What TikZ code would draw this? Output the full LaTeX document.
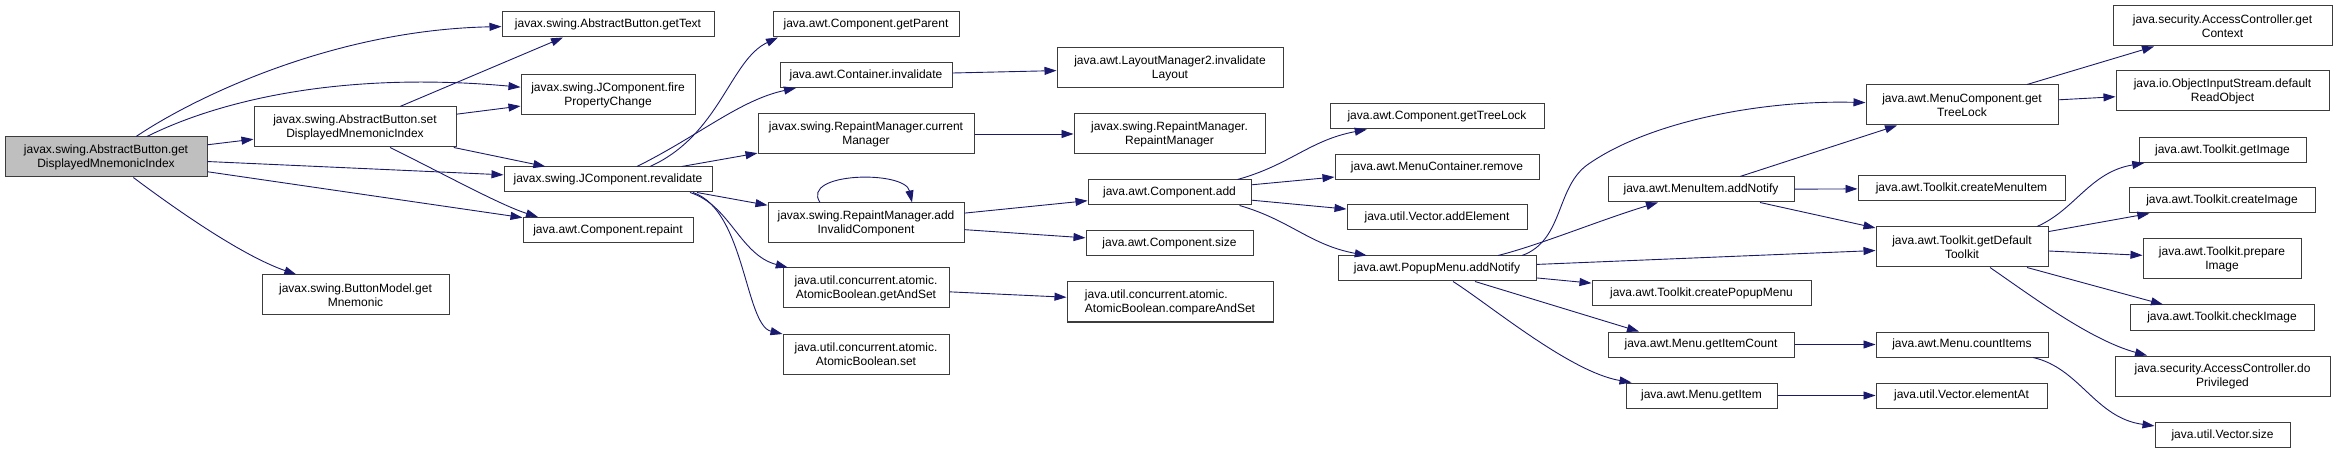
\documentclass[tikz,border=0pt]{standalone}
\usepackage{fontspec}
\setmainfont{Liberation Sans}
\usetikzlibrary{arrows.meta}

\definecolor{edgeblue}{RGB}{25,25,112}
\definecolor{boxgray}{RGB}{60,60,60}
\definecolor{rootgray}{RGB}{191,191,191}

\begin{document}
\begin{tikzpicture}[
        % one unit = one pixel of the graph, y grows downwards
        x=1pt, y=-1pt,
        % box for one method
        func/.style={
            draw=boxgray,
            fill=white,
            line width=1pt,
            inner sep=0pt,
            align=center,
            font=\fontsize{12}{14}\selectfont
        },
        one line/.style={minimum height=25},
        two lines/.style={minimum height=40},
        % the method the graph starts from
        root func/.style={func, fill=rootgray},
        % call arrow
        calls/.style={
            draw=edgeblue,
            line width=0.9pt,
            -{Triangle[length=12pt, width=8pt]}
        }
    ]

    \useasboundingbox (0,0) rectangle (2337,454);

    % Column 1-2
    \node[root func, two lines, minimum width=202] (getDMI) at (106,157) {javax.swing.AbstractButton.get\\DisplayedMnemonicIndex};
    \node[func, two lines, minimum width=202] (setDMI) at (355,127) {javax.swing.AbstractButton.set\\DisplayedMnemonicIndex};
    \node[func, two lines, minimum width=187] (getMnemonic) at (355.5,295) {javax.swing.ButtonModel.get\\Mnemonic};

    % Column 3
    \node[func, one line, minimum width=212] (getText) at (608,24.5) {javax.swing.AbstractButton.getText};
    \node[func, two lines, minimum width=174] (firePC) at (608,95) {javax.swing.JComponent.fire\\PropertyChange};
    \node[func, one line, minimum width=208] (revalidate) at (608,179.5) {javax.swing.JComponent.revalidate};
    \node[func, one line, minimum width=170] (repaint) at (608,230) {java.awt.Component.repaint};

    % Column 4
    \node[func, one line, minimum width=186] (getParent) at (866,24.5) {java.awt.Component.getParent};
    \node[func, one line, minimum width=172] (contInvalidate) at (866,75) {java.awt.Container.invalidate};
    \node[func, two lines, minimum width=216] (currentMgr) at (866,134) {javax.swing.RepaintManager.current\\Manager};
    \node[func, two lines, minimum width=196] (addInvalid) at (866,223) {javax.swing.RepaintManager.add\\InvalidComponent};
    \node[func, two lines, minimum width=166] (getAndSet) at (866,288) {java.util.concurrent.atomic.\\AtomicBoolean.getAndSet};
    \node[func, two lines, minimum width=166] (abSet) at (866,354) {java.util.concurrent.atomic.\\AtomicBoolean.set};

    % Column 5
    \node[func, two lines, minimum width=226] (invLayout) at (1170,68) {java.awt.LayoutManager2.invalidate\\Layout};
    \node[func, two lines, minimum width=191] (rmCtor) at (1169.5,134) {javax.swing.RepaintManager.\\RepaintManager};
    \node[func, one line, minimum width=163] (compAdd) at (1169.5,192.5) {java.awt.Component.add};
    \node[func, one line, minimum width=167] (compSize) at (1169.5,243.5) {java.awt.Component.size};
    \node[func, two lines, minimum width=206, align=left] (compareAndSet) at (1170,302) {java.util.concurrent.atomic.\\AtomicBoolean.compareAndSet};

    % Column 6
    \node[func, one line, minimum width=214] (compTreeLock) at (1437,116.5) {java.awt.Component.getTreeLock};
    \node[func, one line, minimum width=204] (mcRemove) at (1437,167.5) {java.awt.MenuContainer.remove};
    \node[func, one line, minimum width=180] (addElement) at (1437,217.5) {java.util.Vector.addElement};
    \node[func, one line, minimum width=198] (popupNotify) at (1437,268.5) {java.awt.PopupMenu.addNotify};

    % Column 7
    \node[func, one line, minimum width=186] (itemNotify) at (1701,189.5) {java.awt.MenuItem.addNotify};
    \node[func, one line, minimum width=219] (createPopup) at (1701.5,293.5) {java.awt.Toolkit.createPopupMenu};
    \node[func, one line, minimum width=186] (getItemCount) at (1701,344.5) {java.awt.Menu.getItemCount};
    \node[func, one line, minimum width=151] (getItem) at (1701.5,395.5) {java.awt.Menu.getItem};

    % Column 8
    \node[func, two lines, minimum width=192] (mcTreeLock) at (1962,105) {java.awt.MenuComponent.get\\TreeLock};
    \node[func, one line, minimum width=207] (createMenuItem) at (1961.5,188.5) {java.awt.Toolkit.createMenuItem};
    \node[func, two lines, minimum width=172] (defToolkit) at (1962,247) {java.awt.Toolkit.getDefault\\Toolkit};
    \node[func, one line, minimum width=172] (countItems) at (1962,344.5) {java.awt.Menu.countItems};
    \node[func, one line, minimum width=171] (elementAt) at (1961.5,395.5) {java.util.Vector.elementAt};

    % Column 9
    \node[func, two lines, minimum width=219] (getContext) at (2222.5,26) {java.security.AccessController.get\\Context};
    \node[func, two lines, minimum width=213] (readObject) at (2222.5,91) {java.io.ObjectInputStream.default\\ReadObject};
    \node[func, one line, minimum width=167] (getImage) at (2222.5,150) {java.awt.Toolkit.getImage};
    \node[func, one line, minimum width=186] (createImage) at (2222,200.5) {java.awt.Toolkit.createImage};
    \node[func, two lines, minimum width=158] (prepareImage) at (2222,259) {java.awt.Toolkit.prepare\\Image};
    \node[func, one line, minimum width=184] (checkImage) at (2222,317.5) {java.awt.Toolkit.checkImage};
    \node[func, two lines, minimum width=215] (doPrivileged) at (2222.5,376) {java.security.AccessController.do\\Privileged};
    \node[func, one line, minimum width=135] (vectorSize) at (2222.5,435) {java.util.Vector.size};

    % Calls of getDisplayedMnemonicIndex
    \draw[calls] (getDMI) .. controls (190,100) and (330,30) .. (getText);
    \draw[calls] (getDMI) .. controls (210,105) and (330,70) .. (firePC);
    \draw[calls] (getDMI) -- (setDMI);
    \draw[calls] (getDMI) -- (revalidate);
    \draw[calls] (getDMI) -- (repaint);
    \draw[calls] (getDMI) .. controls (170,205) and (240,255) .. (getMnemonic);

    % Calls of setDisplayedMnemonicIndex
    \draw[calls] ([xshift=45]setDMI.north) -- ([xshift=-45]getText.south);
    \draw[calls] (setDMI) -- (firePC);
    \draw[calls] (setDMI) -- (revalidate);
    \draw[calls] ([xshift=35]setDMI.south) .. controls (440,172) and (500,205) .. ([xshift=-70]repaint.north);

    % Calls of revalidate
    \draw[calls] ([xshift=42]revalidate.north) .. controls (720,135) and (730,60) .. ([xshift=-88]getParent.south);
    \draw[calls] ([xshift=29]revalidate.north) .. controls (700,135) and (740,100) .. ([xshift=-70]contInvalidate.south);
    \draw[calls] (revalidate) -- (currentMgr);
    \draw[calls] ([xshift=89]revalidate.south) -- (addInvalid);
    \draw[calls] ([xshift=82]revalidate.south) .. controls (730,205) and (740,255) .. (getAndSet);
    \draw[calls] ([xshift=85]revalidate.south) .. controls (745,210) and (745,325) .. (abSet);

    % Column 4 -> column 5
    \draw[calls] ([xshift=-46]addInvalid.north) .. controls (800,172) and (905,170) .. ([xshift=46]addInvalid.north);
    \draw[calls] (contInvalidate) -- (invLayout);
    \draw[calls] (currentMgr) -- (rmCtor);
    \draw[calls] (addInvalid) -- (compAdd);
    \draw[calls] (addInvalid) -- (compSize);
    \draw[calls] (getAndSet) -- (compareAndSet);

    % Calls of Component.add
    \draw[calls] ([xshift=68]compAdd.north) .. controls (1290,165) and (1310,140) .. (compTreeLock);
    \draw[calls] (compAdd) -- (mcRemove);
    \draw[calls] (compAdd) -- (addElement);
    \draw[calls] ([xshift=70]compAdd.south) .. controls (1290,220) and (1310,245) .. (popupNotify);

    % Calls of PopupMenu.addNotify
    \draw[calls] ([xshift=85]popupNotify.north) .. controls (1565,240) and (1555,185) .. (1590,163)
        .. controls (1650,122) and (1760,100) .. (mcTreeLock);
    \draw[calls] ([xshift=61]popupNotify.north) .. controls (1540,245) and (1600,220) .. (itemNotify);
    \draw[calls] (popupNotify) -- (defToolkit);
    \draw[calls] (popupNotify) -- (createPopup);
    \draw[calls] ([xshift=38]popupNotify.south) -- ([xshift=-62]getItemCount.north);
    \draw[calls] ([xshift=16]popupNotify.south) .. controls (1490,305) and (1570,372) .. ([xshift=-70]getItem.north);

    % Calls of MenuItem.addNotify
    \draw[calls] ([xshift=39]itemNotify.north) -- ([xshift=-65]mcTreeLock.south);
    \draw[calls] (itemNotify) -- (createMenuItem);
    \draw[calls] ([xshift=59]itemNotify.south) -- (defToolkit);

    % Calls of MenuComponent.getTreeLock
    \draw[calls] ([xshift=65]mcTreeLock.north) -- (getContext);
    \draw[calls] (mcTreeLock) -- (readObject);

    % Calls of Toolkit.getDefaultToolkit
    \draw[calls] ([xshift=75]defToolkit.north) .. controls (2075,210) and (2090,172) .. (getImage);
    \draw[calls] (defToolkit) -- (createImage);
    \draw[calls] (defToolkit) -- (prepareImage);
    \draw[calls] ([xshift=65]defToolkit.south) -- ([xshift=-59]checkImage.north);
    \draw[calls] ([xshift=28]defToolkit.south) .. controls (2030,295) and (2090,340) .. (doPrivileged);

    % Menu items
    \draw[calls] (getItemCount) -- (countItems);
    \draw[calls] (getItem) -- (elementAt);
    \draw[calls] ([xshift=71]countItems.south) .. controls (2080,368) and (2095,418) .. (vectorSize);

\end{tikzpicture}
\end{document}
